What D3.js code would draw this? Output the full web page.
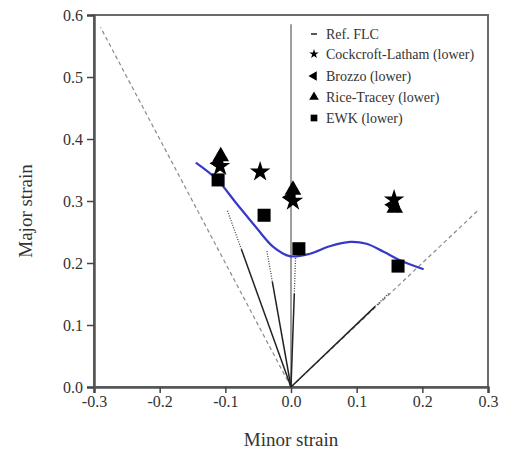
<!DOCTYPE html>
<html>
<head>
<meta charset="utf-8">
<script src="https://cdn.jsdelivr.net/npm/d3@7"></script>
<style>
body { margin: 0; background: #fff; }
text { font-family: "Liberation Serif", "Times New Roman", serif; fill: #333; }
</style>
</head>
<body>
<script>
const width = 505
const height = 452
const plotLeft = 94, plotRight = 488, plotTop = 15, plotBottom = 387

// axis ticks
const xTicks = [-0.3, -0.2, -0.1, 0.0, 0.1, 0.2, 0.3]
const yTicks = [0.0, 0.1, 0.2, 0.3, 0.4, 0.5, 0.6]

// reference strain paths (uniaxial, plane strain, equibiaxial)
const refEnds = [[-0.29, 0.58], [0.285, 0.285]]
const planeStrainTop = 0.585

// simulated strain paths: end point and major strain where the solid part stops
const pathEndX = [-0.097, -0.037, 0.007, 0.15]
const pathEndY = [0.285, 0.221, 0.21, 0.152]
const pathSolidY = [0.222, 0.17, 0.15, 0.13]

// Ref. FLC curve
const flcX = [-0.145, -0.113, -0.083, -0.052, -0.027, -0.002, 0.029, 0.059, 0.09, 0.115, 0.141, 0.171, 0.202]
const flcY = [0.362, 0.335, 0.296, 0.256, 0.226, 0.211, 0.215, 0.227, 0.234, 0.231, 0.218, 0.202, 0.19]

// predicted limit strains
const ewkX = [-0.111, -0.041, 0.012, 0.163]
const ewkY = [0.334, 0.277, 0.223, 0.195]
const cockX = [-0.108, -0.047, 0.003, 0.157]
const cockY = [0.356, 0.347, 0.300, 0.302]
const brozzoX = [-0.11, 0.0, 0.156]
const brozzoY = [0.361, 0.306, 0.294]
const riceX = [-0.107, 0.003, 0.158]
const riceY = [0.372, 0.318, 0.289]

const legendNames = ["Ref.  FLC", "Cockcroft-Latham (lower)", "Brozzo (lower)", "Rice-Tracey (lower)", "EWK (lower)"]

const svg = d3.select("body")
    .append("svg")
    .attr("width", width)
    .attr("height", height)

const x = d3.scaleLinear().domain([-0.3, 0.3]).range([plotLeft, plotRight])
const y = d3.scaleLinear().domain([0, 0.6]).range([plotBottom, plotTop])

// frame
svg.append("rect")
    .attr("x", plotLeft)
    .attr("y", plotTop)
    .attr("width", plotRight - plotLeft)
    .attr("height", plotBottom - plotTop)
    .style("fill", "none")
    .style("stroke", "#6a6a6a")
    .style("stroke-width", 2)

const xAxis = svg.append("g")
    .attr("transform", "translate(0," + plotBottom + ")")
    .call(d3.axisBottom(x).tickValues(xTicks).tickFormat(d3.format(".1f")).tickSize(6).tickPadding(3))
const yAxis = svg.append("g")
    .attr("transform", "translate(" + plotLeft + ",0)")
    .call(d3.axisLeft(y).tickValues(yTicks).tickFormat(d3.format(".1f")).tickSize(7).tickPadding(4))
for (let ax of [xAxis, yAxis]) {
    ax.select(".domain").style("stroke", "#555").style("stroke-width", 2.5)
    ax.selectAll(".tick line").style("stroke", "#444").style("stroke-width", 1.5)
    ax.selectAll(".tick text")
        .style("font-family", "'Liberation Serif', serif")
        .style("font-size", "16px")
        .style("fill", "#333")
}
xAxis.selectAll(".tick text").text(d => d3.format(".1f")(d).replace("−", "-"))
yAxis.selectAll(".tick text").attr("dy", "0.35em")

svg.append("text")
    .attr("x", 291)
    .attr("y", 446)
    .attr("text-anchor", "middle")
    .style("font-size", "19px")
    .text("Minor strain")
svg.append("text")
    .attr("transform", "translate(32,211) rotate(-90)")
    .attr("text-anchor", "middle")
    .style("font-size", "19px")
    .text("Major strain")

// reference lines
for (let e of refEnds) {
    svg.append("line")
        .attr("x1", x(0)).attr("y1", y(0))
        .attr("x2", x(e[0])).attr("y2", y(e[1]))
        .style("stroke", "#8a8a8a")
        .style("stroke-width", 1.2)
        .style("stroke-dasharray", "4,3")
}
svg.append("line")
    .attr("x1", x(0)).attr("y1", y(0))
    .attr("x2", x(0)).attr("y2", y(planeStrainTop))
    .style("stroke", "#6a6a6a")
    .style("stroke-width", 1.3)

// strain paths
pathEndX.forEach((ex, i) => {
    let t = pathSolidY[i] / pathEndY[i]
    svg.append("line")
        .attr("x1", x(0)).attr("y1", y(0))
        .attr("x2", x(ex * t)).attr("y2", y(pathSolidY[i]))
        .style("stroke", "#222")
        .style("stroke-width", 1.5)
    svg.append("line")
        .attr("x1", x(ex * t)).attr("y1", y(pathSolidY[i]))
        .attr("x2", x(ex)).attr("y2", y(pathEndY[i]))
        .style("stroke", "#444")
        .style("stroke-width", 1.3)
        .style("stroke-dasharray", "1,1.5")
})

// FLC curve
svg.append("path")
    .datum(d3.zip(flcX, flcY))
    .attr("d", d3.line().x(d => x(d[0])).y(d => y(d[1])).curve(d3.curveCatmullRom))
    .style("fill", "none")
    .style("stroke", "#3838c8")
    .style("stroke-width", 2.2)

function marks(xs, ys, type, size, rot) {
    svg.selectAll(null)
        .data(d3.zip(xs, ys))
        .enter()
        .append("path")
        .attr("d", d3.symbol().type(type).size(size))
        .attr("transform", d => "translate(" + x(d[0]) + "," + y(d[1]) + ") rotate(" + rot + ")")
        .style("fill", "#000")
}
marks(ewkX, ewkY, d3.symbolSquare, 170, 0)
marks(brozzoX, brozzoY, d3.symbolTriangle, 110, -90)
marks(riceX, riceY, d3.symbolTriangle, 120, 0)
marks(cockX, cockY, d3.symbolStar, 130, 0)

// legend
const legendY = [34, 54, 76, 97, 118]
const legendSyms = [null, d3.symbolStar, d3.symbolTriangle, d3.symbolTriangle, d3.symbolSquare]
const legendRot = [0, 0, -90, 0, 0]
const legendSize = [0, 28, 40, 40, 45]
legendNames.forEach((name, i) => {
    if (legendSyms[i]) {
        svg.append("path")
            .attr("d", d3.symbol().type(legendSyms[i]).size(legendSize[i]))
            .attr("transform", "translate(314," + legendY[i] + ") rotate(" + legendRot[i] + ")")
            .style("fill", "#000")
    } else {
        svg.append("line")
            .attr("x1", 311).attr("x2", 317)
            .attr("y1", legendY[i]).attr("y2", legendY[i])
            .style("stroke", "#222")
            .style("stroke-width", 1.5)
    }
    svg.append("text")
        .attr("x", 326)
        .attr("y", legendY[i])
        .attr("dy", "0.35em")
        .style("font-size", "14px")
        .text(name)
})
</script>
</body>
</html>
